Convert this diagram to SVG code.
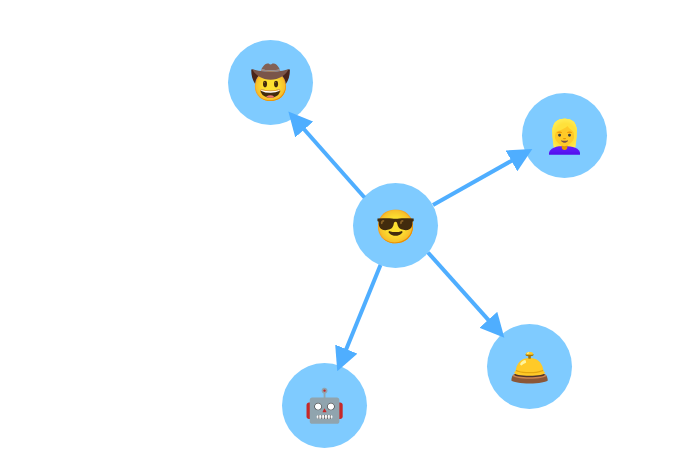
<svg xmlns="http://www.w3.org/2000/svg" width="700" height="460" viewBox="0 0 700 460">
<style>
.n{fill:#7fcbff}
.e{stroke:#4faeff;stroke-width:4;fill:none;marker-end:url(#a)}
text{font-family:"Noto Color Emoji","Noto Sans",sans-serif;font-size:33px;text-anchor:middle;dominant-baseline:central}
</style>
<defs><marker id="a" markerUnits="userSpaceOnUse" markerWidth="24" markerHeight="24" refX="4" refY="12" orient="auto"><path d="M0 0L24 12L0 24Z" fill="#4faeff"/></marker></defs>
<rect width="700" height="460" fill="#fff"/>
<g id="center"><circle class="n" cx="395.500" cy="225.500" r="42.500"/><text x="395.500" y="226">😎</text></g>
<g id="cowboy"><circle class="n" cx="270.500" cy="82.500" r="42.500"/><text x="270.500" y="82">🤠</text></g>
<g id="woman"><circle class="n" cx="564.500" cy="135.500" r="42.500"/><text x="564.500" y="136">👱‍♀️</text></g>
<g id="bell"><circle class="n" cx="529.500" cy="366.500" r="42.500"/><text x="529.500" y="367">🛎️</text></g>
<g id="robot"><circle class="n" cx="324.500" cy="405.500" r="42.500"/><text x="324.500" y="405">🤖</text></g>
<g id="edges">
<path class="e" d="M364.500 197.500L301.600 126.500"/>
<path class="e" d="M433 205L514.900 158.900"/>
<path class="e" d="M428 252.500L491 322.800"/>
<path class="e" d="M380.500 265L344.800 352.800"/>
</g>
</svg>
